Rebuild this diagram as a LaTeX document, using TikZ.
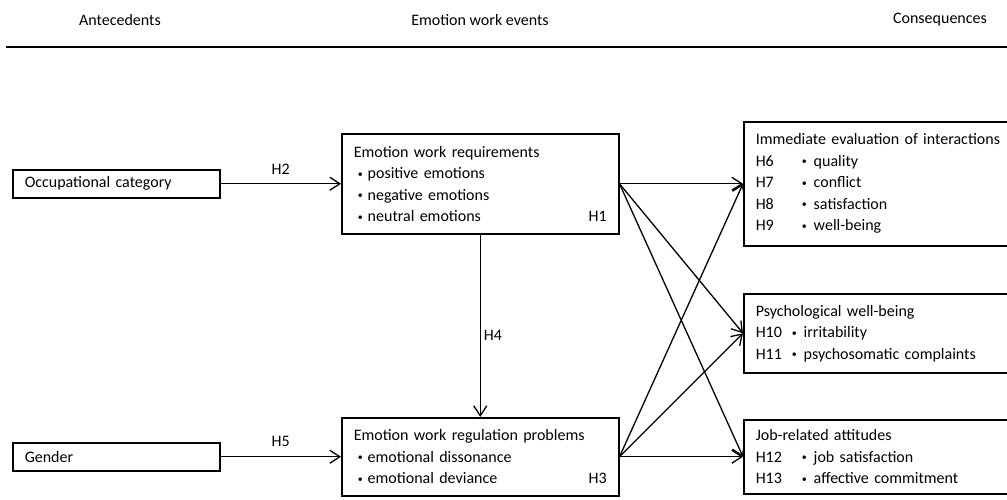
\documentclass[tikz,border=0pt]{standalone}
\usepackage{fontspec}
\setmainfont{Carlito}
\usetikzlibrary{positioning, arrows.meta}

% bullet and hypothesis columns used inside the boxes
\newcommand{\itm}{\hspace*{4pt}\raisebox{1.5pt}{\fontsize{10}{10}\selectfont\textbullet}\hspace{5pt}}
\newcommand{\hyprow}[3]{\makebox[#1][l]{#2}\raisebox{1.5pt}{\fontsize{10}{10}\selectfont\textbullet}\hspace{7pt}#3}
\newcommand{\pushright}{\hskip 0pt plus 1fill\relax}

\begin{document}
\begin{tikzpicture}[
    x=1pt, y=-1pt,
    font=\fontsize{16}{21.5}\selectfont,
    box/.style={rectangle, draw, line width=1.5pt, anchor=north west, align=left, inner xsep=12pt, inner ysep=0pt},
    arrow/.style={line width=1.3pt, -{Straight Barb[length=10pt, width=13pt, line width=1.3pt]}},
    hyp/.style={inner sep=3pt}
]
\useasboundingbox (0,0) rectangle (1007,499);

% Header
\node (antec) at (120,20) {Antecedents};
\node (events) at (480,20) {Emotion work events};
\node (conseq) at (940,20) {Consequences};
\draw[line width=2pt] (6,47) -- (1007,47);

% Antecedents
\node[box, text width=183pt, minimum height=28pt] (occ) at (12,169) {Occupational category};
\node[box, text width=183pt, minimum height=28pt] (gender) at (12,442) {Gender};

% Emotion work events
\node[box, text width=253pt, minimum height=100pt] (req) at (341,133) {Emotion work requirements\\
\itm positive emotions\\
\itm negative emotions\\
\itm neutral emotions\pushright H1};

\node[box, text width=253pt, minimum height=78pt] (reg) at (341,417) {Emotion work regulation problems\\
\itm emotional dissonance\\
\itm emotional deviance\pushright H3};

% Consequences
\node[box, text width=252pt, minimum height=124pt] (imm) at (743,121) {Immediate evaluation of interactions\\
\hyprow{46pt}{H6}{quality}\\
\hyprow{46pt}{H7}{conflict}\\
\hyprow{46pt}{H8}{satisfaction}\\
\hyprow{46pt}{H9}{well-being}};

\node[box, text width=252pt, minimum height=79pt] (psy) at (743,293) {Psychological well-being\\
\hyprow{36pt}{H10}{irritability}\\
\hyprow{36pt}{H11}{psychosomatic complaints}};

\node[box, text width=252pt, minimum height=74pt] (job) at (743,419) {Job-related attitudes\\
\hyprow{46pt}{H12}{job satisfaction}\\
\hyprow{46pt}{H13}{affective commitment}};

% Arrows
\draw[arrow] (occ) -- (req) node[hyp, midway, above=6pt] (h2) {H2};
\draw[arrow] (gender) -- (reg) node[hyp, midway, above=6pt] (h5) {H5};
\draw[arrow] (req) -- (reg) node[hyp, pos=0.55, right] (h4) {H4};

\draw[arrow] (req.east) -- (imm.west);
\draw[arrow] (req.east) -- (psy.west);
\draw[arrow] (req.east) -- (job.west);
\draw[arrow] (reg.east) -- (imm.west);
\draw[arrow] (reg.east) -- (psy.west);
\draw[arrow] (reg.east) -- (job.west);

\end{tikzpicture}
\end{document}
